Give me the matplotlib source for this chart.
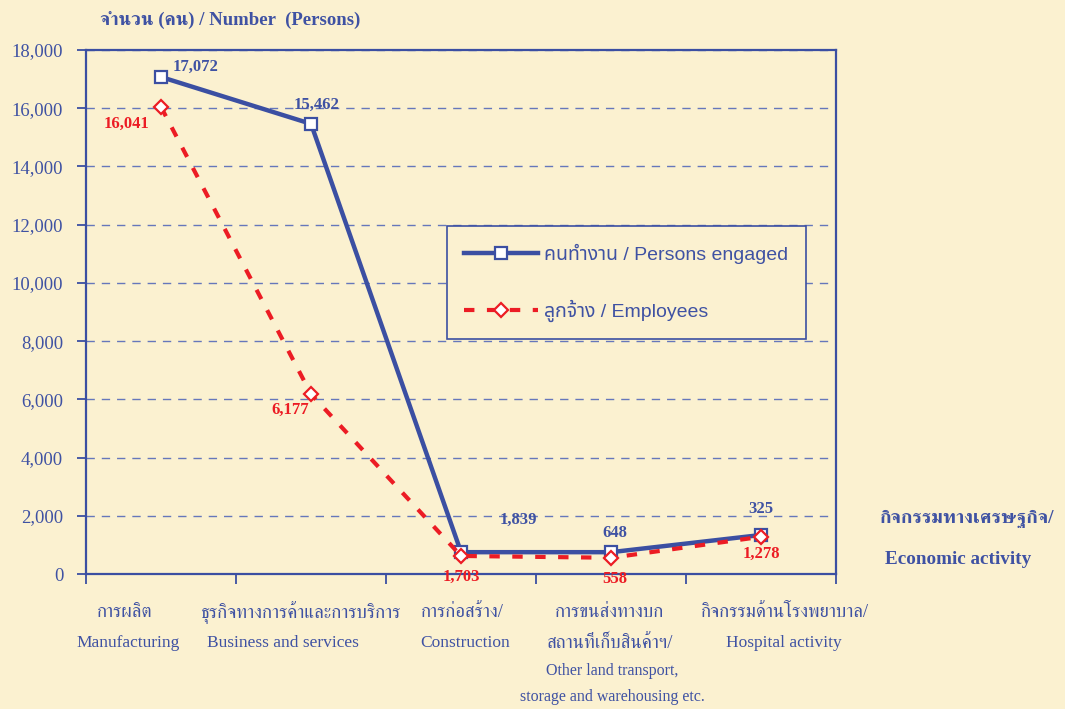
"""Persons engaged vs employees by economic activity (Thai/English)."""

import matplotlib

matplotlib.use("Agg")
import matplotlib.pyplot as plt
from matplotlib.ticker import FuncFormatter, MultipleLocator

# category names, Thai part and English part (may span lines)
categories_th = [
    "การผลิต",
    "ธุรกิจทางการค้าและการบริการ",
    "การก่อสร้าง/",
    "การขนส่งทางบก\nสถานที่เก็บสินค้าฯ/",
    "กิจกรรมด้านโรงพยาบาล/",
]
categories_en = [
    "Manufacturing",
    "Business and services",
    "Construction",
    "Other land transport,\nstorage and warehousing etc.",
    "Hospital activity",
]
# plotted values as they sit on the chart
persons = [17072, 15462, 750, 750, 1340]
employees = [16041, 6177, 620, 558, 1278]
# data labels printed next to the points
persons_labels = ["17,072", "15,462", "1,839", "648", "325"]
employees_labels = ["16,041", "6,177", "1,703", "558", "1,278"]

# label offsets in points (dx, dy)
persons_off = [(8, 7), (4, 14), (28, 23), (3, 14), (0, 19)]
employees_off = [(-25, -12), (-15, -11), (0, -15), (3, -15), (0, -12)]
# category label x offsets (px) and line centres below the axis (px)
th_dx = [-36, -10, 1, -1, 24]
en_dx = [-33, -28, 4, 1, 23]
line_y = [38, 69, 97, 123]
th_size = 13.5
en_size = [12.5, 12.5, 11.5, 11.5]

BG = "#FBF1D0"
BLUE = "#3B4FA2"
TXT = "#3F52A3"
RED = "#EC1C24"
SERIF = ["Liberation Serif", "FreeSerif", "DejaVu Serif"]
SANS = ["Liberation Sans", "Noto Sans Thai", "DejaVu Sans"]
PT = 0.72  # points per pixel at dpi 100


def main() -> None:
    fig = plt.figure(figsize=(10.65, 7.09), dpi=100, facecolor=BG)
    ax = fig.add_axes([0.0808, 0.1904, 0.7042, 0.7391], facecolor=BG)

    x = list(range(len(persons)))
    ax.plot(x, persons, "-", color=BLUE, lw=3.2, marker="s", ms=9,
            mfc="white", mec=BLUE, mew=1.6, label="คนทำงาน / Persons engaged",
            zorder=3)
    ax.plot(x, employees, color=RED, lw=3, ls=(0, (2.5, 3)), marker="D",
            ms=7.5, mfc="white", mec=RED, mew=1.6,
            label="ลูกจ้าง / Employees", zorder=4)

    for xi, v, s, off in zip(x, persons, persons_labels, persons_off):
        ax.annotate(s, (xi, v), xytext=off, textcoords="offset points",
                    ha="left" if off[0] > 5 else "center", va="center",
                    color=TXT, fontsize=12, fontweight="bold", family=SERIF)
    for xi, v, s, off in zip(x, employees, employees_labels, employees_off):
        ax.annotate(s, (xi, v), xytext=off, textcoords="offset points",
                    ha="center", va="center", color=RED, fontsize=12,
                    fontweight="bold", family=SERIF)

    # category labels under the axis
    for xi, th, en, dth, den in zip(x, categories_th, categories_en,
                                    th_dx, en_dx):
        lines = [(l, dth, True) for l in th.split("\n")] + \
                [(l, den, False) for l in en.split("\n")]
        for k, (txt, dx, is_th) in enumerate(lines):
            ax.annotate(txt, (xi, 0), xytext=(dx * PT, -line_y[k] * PT),
                        textcoords="offset points", ha="center", va="center",
                        color=TXT, fontsize=th_size if is_th else en_size[k],
                        family=SERIF, annotation_clip=False)

    ax.set_xlim(-0.5, len(persons) - 0.5)
    ax.set_ylim(0, 18000)
    ax.yaxis.set_major_locator(MultipleLocator(2000))
    ax.yaxis.set_major_formatter(FuncFormatter(lambda v, _: f"{v:,.0f}"))
    ax.grid(axis="y", color="#6677BB", ls=(0, (6, 5)), lw=1)
    ax.set_axisbelow(True)

    ax.set_xticks([i - 0.5 for i in range(len(persons) + 1)])
    ax.set_xticklabels([])
    ax.tick_params(axis="x", length=7, color=BLUE, width=1.3)
    ax.tick_params(axis="y", length=6.5, color=BLUE, width=1.3,
                   labelsize=13.5, labelcolor=TXT, pad=10)
    for lab in ax.get_yticklabels():
        lab.set_family(SERIF)
    for sp in ax.spines.values():
        sp.set_color(BLUE)
        sp.set_linewidth(1.6)

    leg = ax.legend(loc="upper left", bbox_to_anchor=(0.481, 0.664),
                    borderaxespad=0, frameon=True, fancybox=False,
                    facecolor=BG, edgecolor=BLUE, framealpha=1,
                    handlelength=3.8, labelspacing=1.85, borderpad=0.9,
                    handletextpad=0.3, prop={"family": SANS, "size": 14})
    leg.get_frame().set_linewidth(1.2)
    for t in leg.get_texts():
        t.set_color(TXT)

    fig.text(100 / 1065, 1 - 20 / 709, "จำนวน (คน) / Number  (Persons)",
             ha="left", va="center", color=TXT, fontsize=13.5,
             fontweight="bold", family=SERIF)
    fig.text(880 / 1065, 1 - 519 / 709, "กิจกรรมทางเศรษฐกิจ/", ha="left",
             va="center", color=TXT, fontsize=14, fontweight="bold",
             family=SERIF)
    fig.text(885 / 1065, 1 - 559 / 709, "Economic activity", ha="left",
             va="center", color=TXT, fontsize=13.8, fontweight="bold",
             family=SERIF)

    fig.savefig("out.png", dpi=100, facecolor=BG)


if __name__ == "__main__":
    main()
